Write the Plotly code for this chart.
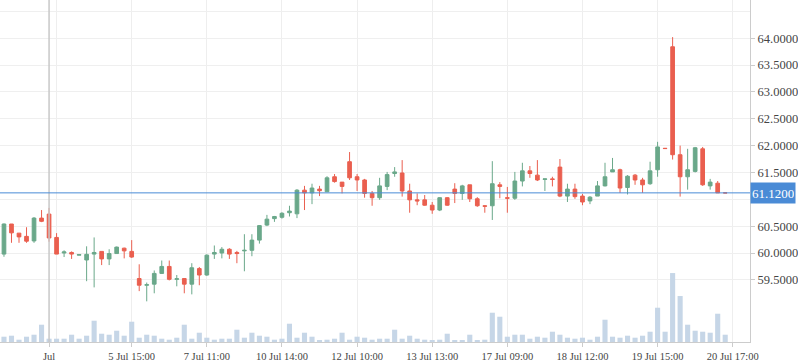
import plotly.graph_objects as go

# ---------------- data ----------------
open_ = [59.98, 60.54, 60.37, 60.31, 60.225, 60.65, 60.725, 60.29, 60.00, 60.01,
         59.96, 59.87, 59.98, 60.03, 59.89, 59.99, 60.09, 60.03, 59.525, 59.40,
         59.42, 59.62, 59.75, 59.51, 59.525, 59.42, 59.71, 59.59, 59.98, 60.00,
         60.07, 60.01, 60.04, 60.05, 60.24, 60.52, 60.64, 60.665, 60.75, 60.73,
         61.17, 61.12, 61.19, 61.14, 61.42, 61.32, 61.70, 61.42, 61.36, 61.11,
         61.03, 61.24, 61.48, 61.49, 61.155, 60.99, 60.99, 60.89, 60.80, 61.03,
         61.19, 61.11, 61.27, 61.01, 60.88, 60.88, 61.27, 61.03, 61.02, 61.34,
         61.53, 61.45, 61.37, 61.38, 61.60, 61.06, 61.19, 61.06, 60.97, 61.06,
         61.25, 61.51, 61.55, 61.22, 61.45, 61.36, 61.29, 61.55, 61.95, 63.84,
         61.83, 61.42, 61.52, 61.94, 61.25, 61.30, 61.12]
high = [60.55, 60.54, 60.37, 60.48, 60.67, 60.80, 60.84, 60.37, 60.05, 60.03,
        59.97, 60.125, 60.29, 60.03, 60.07, 60.12, 60.10, 60.24, 59.79, 59.45,
        59.675, 59.86, 59.86, 59.59, 59.525, 59.81, 59.74, 59.975, 60.14, 60.11,
        60.09, 60.04, 60.35, 60.35, 60.52, 60.71, 60.69, 60.76, 60.88, 61.19,
        61.25, 61.29, 61.25, 61.43, 61.47, 61.32, 61.88, 61.47, 61.38, 61.155,
        61.40, 61.51, 61.60, 61.73, 61.29, 61.11, 61.08, 60.95, 61.04, 61.04,
        61.30, 61.27, 61.27, 61.04, 60.89, 61.71, 61.32, 61.23, 61.51, 61.68,
        61.62, 61.73, 61.38, 61.42, 61.75, 61.29, 61.29, 61.10, 61.06, 61.34,
        61.68, 61.77, 61.57, 61.45, 61.47, 61.40, 61.70, 62.07, 61.95, 64.02,
        62.00, 61.94, 61.975, 61.975, 61.38, 61.34, 61.12]
low = [59.93, 60.19, 60.19, 60.19, 60.19, 60.575, 60.21, 59.98, 59.925, 59.89,
       59.96, 59.475, 59.36, 59.775, 59.775, 59.99, 59.90, 59.91, 59.29, 59.10,
       59.25, 59.61, 59.49, 59.38, 59.25, 59.23, 59.40, 59.575, 59.89, 59.90,
       59.89, 59.81, 59.66, 59.94, 60.175, 60.50, 60.58, 60.64, 60.68, 60.65,
       60.80, 60.91, 61.06, 61.14, 61.31, 61.11, 61.36, 61.155, 61.03, 60.88,
       60.99, 61.17, 61.42, 61.05, 60.75, 60.89, 60.88, 60.73, 60.78, 60.88,
       60.93, 60.99, 60.95, 60.86, 60.75, 60.615, 61.02, 60.75, 60.99, 61.24,
       61.40, 61.34, 61.155, 61.24, 61.04, 60.95, 61.01, 60.89, 60.91, 61.06,
       61.24, 61.51, 61.12, 61.09, 61.27, 61.12, 61.27, 61.42, 61.94, 61.74,
       61.05, 61.18, 61.50, 61.25, 61.18, 61.12, 61.12]
close = [60.54, 60.375, 60.30, 60.22, 60.65, 60.59, 60.28, 59.98, 60.02, 59.98,
         59.97, 59.975, 60.01, 59.89, 59.99, 60.11, 60.04, 59.925, 59.40, 59.41,
         59.62, 59.75, 59.51, 59.52, 59.42, 59.725, 59.59, 59.96, 60.01, 60.07,
         59.98, 59.99, 60.05, 60.24, 60.51, 60.63, 60.68, 60.74, 60.78, 61.17,
         61.12, 61.21, 61.16, 61.40, 61.33, 61.24, 61.40, 61.36, 61.11, 61.03,
         61.25, 61.46, 61.51, 61.155, 60.99, 60.97, 60.89, 60.80, 61.03, 60.89,
         61.11, 61.25, 61.01, 60.88, 60.87, 61.29, 61.24, 61.02, 61.34, 61.53,
         61.48, 61.36, 61.38, 61.37, 61.06, 61.19, 61.05, 60.95, 61.04, 61.25,
         61.42, 61.55, 61.21, 61.43, 61.36, 61.27, 61.53, 61.975, 61.945, 61.83,
         61.42, 61.55, 61.96, 61.27, 61.32, 61.12, 61.12]
volume = [5.3, 6.3, 2.3, 5.3, 7.3, 17.3, 3.3, 3.3, 3.3, 7.3,
          3.3, 6.3, 21.3, 8.3, 7.3, 11.3, 6.3, 20.3, 4.3, 7.3,
          6.3, 3.3, 2.3, 4.3, 17.3, 3.3, 9.3, 4.3, 2.3, 3.3,
          3.3, 12.3, 4.3, 9.3, 6.3, 5.3, 2.3, 3.3, 18.3, 4.3,
          9.3, 5.3, 1.3, 2.3, 3.3, 9.3, 2.3, 5.3, 4.3, 2.3,
          3.3, 3.3, 12.3, 3.3, 6.3, 3.3, 2.3, 1.3, 2.3, 8.3,
          1.3, 1.3, 7.3, 1.3, 2.3, 29.3, 25.3, 5.3, 7.3, 7.3,
          3.3, 5.3, 4.3, 10.3, 7.3, 4.3, 3.3, 4.3, 2.3, 5.3,
          22.3, 5.3, 4.3, 6.3, 4.3, 6.3, 10.3, 34.3, 10.3, 69.0,
          46.0, 17.3, 11.3, 10.3, 9.3, 28.3, 7.3]
idx = list(range(len(open_)))

tick_idx = [6, 17, 27, 37, 47, 57, 67, 77, 87, 97]
tick_text = ["Jul", "5 Jul 15:00", "7 Jul 11:00", "10 Jul 14:00", "12 Jul 10:00",
             "13 Jul 13:00", "17 Jul 09:00", "18 Jul 12:00", "19 Jul 15:00", "20 Jul 17:00"]
grid_idx = [7, 17, 27, 37, 47, 57, 67, 77, 87, 97]
price_ticks = [59.5, 60.0, 60.5, 61.0, 61.5, 62.0, 62.5, 63.0, 63.5, 64.0]
last_price = 61.12
month_idx = 6

# ---------------- styling ----------------
GREEN = "#6aa88a"
RED = "#ea5f4f"
BLUE = "#4a8bd6"
FONT = "Liberation Serif"

# the last-price badge covers the tick label right under it
price_text = ["" if abs(p - last_price) < 0.2 else f"{p:.4f}" for p in price_ticks]

fig = go.Figure()

fig.add_trace(go.Bar(
    x=idx, y=volume, yaxis="y2", width=0.68,
    marker=dict(color="#c6d6e7", line=dict(width=0)),
    hoverinfo="skip", showlegend=False,
))

fig.add_trace(go.Candlestick(
    x=idx, open=open_, high=high, low=low, close=close,
    increasing=dict(line=dict(color=GREEN, width=1), fillcolor=GREEN),
    decreasing=dict(line=dict(color=RED, width=1), fillcolor=RED),
    whiskerwidth=0, showlegend=False,
))

fig.update_layout(
    width=798, height=363,
    margin=dict(l=0, r=44, t=0, b=21),
    paper_bgcolor="white", plot_bgcolor="white",
    showlegend=False, hovermode=False,
    xaxis=dict(
        range=[-0.53, 99.3],
        rangeslider=dict(visible=False),
        tickmode="array", tickvals=tick_idx, ticktext=tick_text,
        showgrid=False, zeroline=False,
        showline=True, linecolor="#cccccc", linewidth=1,
        ticks="outside", ticklen=4, tickcolor="#cccccc",
        tickfont=dict(family=FONT, size=10.5, color="#444444"),
        minor=dict(tickvals=grid_idx, showgrid=True, gridcolor="#eeeeee",
                   gridwidth=1, ticklen=0),
    ),
    yaxis=dict(
        side="right", range=[58.343, 64.711],
        tickmode="array", tickvals=price_ticks, ticktext=price_text,
        showgrid=True, gridcolor="#efefef", gridwidth=1, zeroline=False,
        showline=True, linecolor="#cccccc", linewidth=1,
        ticks="outside", ticklen=4, tickcolor="#cccccc",
        tickfont=dict(family=FONT, size=12.5, color="#444444"),
        minor=dict(tickvals=[64.5], showgrid=True, gridcolor="#efefef", ticklen=0),
    ),
    yaxis2=dict(
        overlaying="y", range=[0, max(volume) * 4.96],
        showgrid=False, showticklabels=False, zeroline=False, showline=False,
    ),
)

# month separator line
fig.add_shape(type="line", xref="x", yref="paper", x0=month_idx, x1=month_idx,
              y0=0, y1=1, line=dict(color="#c8c8c8", width=1.5), layer="above")
# last-price line
fig.add_shape(type="line", xref="paper", yref="y", x0=0, x1=1,
              y0=last_price, y1=last_price, line=dict(color=BLUE, width=1), layer="above")
fig.add_annotation(
    xref="paper", yref="y", x=1, y=last_price, xanchor="left", yanchor="middle",
    text=f"{last_price:.4f}", showarrow=False,
    bgcolor=BLUE, width=42, height=18, borderpad=1,
    font=dict(family=FONT, size=13, color="white"),
)

fig.write_html("out.html", config={"displayModeBar": False},
               post_script="document.body.style.margin='0';document.body.style.padding='0';")
